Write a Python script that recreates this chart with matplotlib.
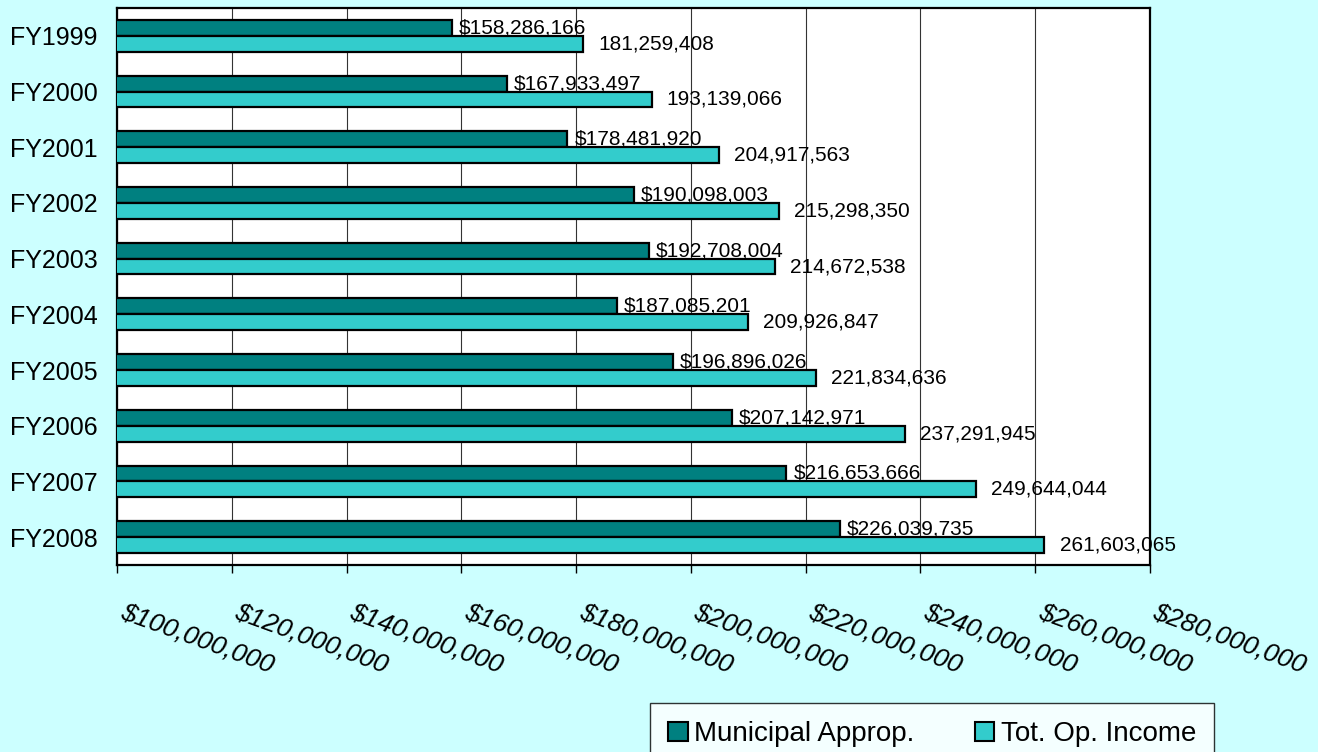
import numpy as np
import matplotlib
matplotlib.use("Agg")
import matplotlib.pyplot as plt
import matplotlib.transforms as mtransforms
from matplotlib.patches import Patch

# Data
years = ["FY1999", "FY2000", "FY2001", "FY2002", "FY2003",
         "FY2004", "FY2005", "FY2006", "FY2007", "FY2008"]
municipal = [158286166, 167933497, 178481920, 190098003, 192708004,
             187085201, 196896026, 207142971, 216653666, 226039735]
total_income = [181259408, 193139066, 204917563, 215298350, 214672538,
                209926847, 221834636, 237291945, 249644044, 261603065]
xticks = np.arange(100000000, 280000001, 20000000)

c_mun = "#008080"
c_tot = "#33CCCC"
bg = "#CCFFFF"

plt.rcParams['font.family'] = ['Liberation Sans', 'DejaVu Sans']

fig = plt.figure(figsize=(13.18, 7.52), dpi=100, facecolor=bg)
ax = fig.add_axes([0.0888, 0.2487, 0.7837, 0.7407])
ax.set_facecolor("white")

y = np.arange(len(years))
h = 0.285
ax.barh(y - h / 2, municipal, height=h, color=c_mun, edgecolor="black", linewidth=1.6, zorder=3)
ax.barh(y + h / 2, total_income, height=h, color=c_tot, edgecolor="black", linewidth=1.6, zorder=3)

# value labels
for i in range(len(years)):
    ax.annotate("${:,}".format(municipal[i]), (municipal[i], y[i] - h / 2),
                xytext=(5, 0), textcoords="offset points", ha="left", va="center",
                fontsize=15, zorder=4)
    ax.annotate("{:,}".format(total_income[i]), (total_income[i], y[i] + h / 2),
                xytext=(11, 0), textcoords="offset points", ha="left", va="center",
                fontsize=15, zorder=4)

ax.set_xlim(100000000, 280000000)
ax.set_ylim(len(years) - 0.5, -0.5)
ax.set_yticks(y)
ax.set_yticklabels(years, fontsize=18)
ax.tick_params(axis="y", length=0, pad=14)

ax.set_xticks(xticks)
ax.set_xticklabels(["${:,}".format(v) for v in xticks], fontsize=19, style="italic",
                   rotation=-20, ha="left", rotation_mode="anchor")
ax.tick_params(axis="x", direction="out", length=6, width=1, pad=19)
shift = mtransforms.ScaledTranslation(6 / 72, 0, fig.dpi_scale_trans)
for lab in ax.get_xticklabels():
    lab.set_transform(lab.get_transform() + shift)
ax.xaxis.grid(True, color="#333333", linewidth=0.8, zorder=0)

for s in ax.spines.values():
    s.set_linewidth(1.6)
    s.set_color("black")

handles = [Patch(facecolor=c_mun, edgecolor="black", linewidth=1.5),
           Patch(facecolor=c_tot, edgecolor="black", linewidth=1.5)]
leg = fig.legend(handles, ["Municipal Approp.", "Tot. Op. Income"], ncol=2,
                 loc="upper left", bbox_to_anchor=(0.4932, 0.0652), fontsize=20,
                 frameon=True, fancybox=False, edgecolor="black", facecolor="white",
                 handlelength=0.7, handleheight=0.7, handletextpad=0.22,
                 columnspacing=2.2, borderaxespad=0, borderpad=0.65)
leg.get_frame().set_linewidth(1.0)

fig.savefig("out.png", dpi=100, facecolor=bg)
